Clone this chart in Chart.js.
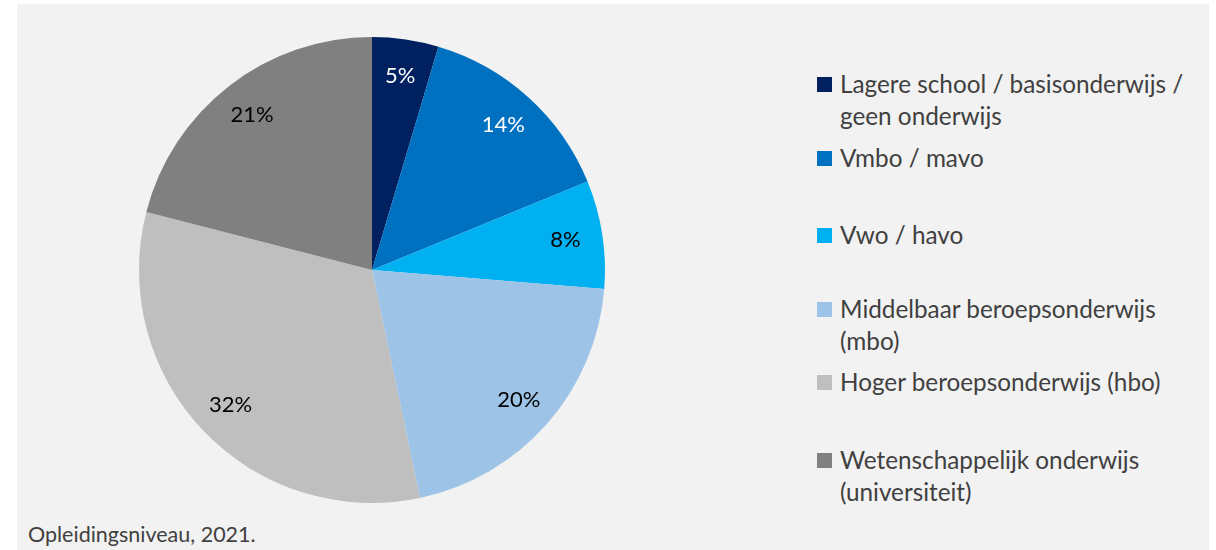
<!DOCTYPE html>
<html>
<head>
<meta charset="utf-8">
<script src="https://cdn.jsdelivr.net/npm/chart.js@4.4.1/dist/chart.umd.min.js"></script>
<style>
  body { margin: 0; background: #fff; font-family: Lato, sans-serif; }
  #wrap { position: relative; width: 1216px; height: 550px; }
  #panel { position: absolute; left: 17px; top: 4px; width: 1192px; height: 546px; background: #f2f2f2; }
  #pieBox { position: absolute; left: 137px; top: 35px; width: 470px; height: 470px; }
  #legend { position: absolute; left: 817px; top: 0; }
  .item { position: absolute; left: 0; width: 390px; display: flex; align-items: flex-start; }
  .sw { width: 15px; height: 15px; margin-top: 9px; margin-right: 8px; flex: none; }
  .txt { font-size: 24.3px; line-height: 32px; color: #404040; width: 358px; }
  #caption { position: absolute; left: 28px; top: 521px; font-size: 21.5px; color: #404040; }
</style>
</head>
<body>
<div id="wrap">
  <div id="panel"></div>
  <div id="pieBox"><canvas id="pieChart"></canvas></div>
  <div id="legend"></div>
  <div id="caption">Opleidingsniveau, 2021.</div>
</div>
<script>
const categories = [
  'Lagere school / basisonderwijs / geen onderwijs',
  'Vmbo / mavo',
  'Vwo / havo',
  'Middelbaar beroepsonderwijs (mbo)',
  'Hoger beroepsonderwijs (hbo)',
  'Wetenschappelijk onderwijs (universiteit)'
];
const shares = [4.6, 14.2, 7.5, 20.4, 32.3, 21.0];
const shareLabels = ['5%', '14%', '8%', '20%', '32%', '21%'];
const colors = ['#002060', '#0070c0', '#00b0f0', '#9dc3e6', '#bfbfbf', '#808080'];
const labelColors = ['#ffffff', '#ffffff', '#000000', '#000000', '#000000', '#000000'];

// legend, html because the labels wrap
const legendTops = [68, 142, 219, 293, 366, 444];
const legendDiv = document.getElementById('legend');
categories.forEach((c, i) => {
  legendDiv.innerHTML += `<div class="item" style="top:${legendTops[i]}px">
    <div class="sw" style="background:${colors[i]}"></div><div class="txt">${c}</div></div>`;
});

const sliceLabels = {
  id: 'sliceLabels',
  afterDatasetsDraw(chart) {
    const ctx = chart.ctx;
    const meta = chart.getDatasetMeta(0);
    ctx.save();
    ctx.font = '22px Lato';
    ctx.textAlign = 'center';
    ctx.textBaseline = 'middle';
    meta.data.forEach((arc, i) => {
      const p = arc.getProps(['x', 'y', 'startAngle', 'endAngle', 'outerRadius'], true);
      const mid = (p.startAngle + p.endAngle) / 2;
      const r = p.outerRadius * 0.84;
      ctx.fillStyle = labelColors[i];
      ctx.fillText(shareLabels[i], p.x + Math.cos(mid) * r, p.y + Math.sin(mid) * r);
    });
    ctx.restore();
  }
};

new Chart(document.getElementById('pieChart'), {
  type: 'pie',
  data: {
    labels: categories,
    datasets: [{
      data: shares,
      backgroundColor: colors,
      borderWidth: 0
    }]
  },
  options: {
    responsive: true,
    maintainAspectRatio: false,
    animation: false,
    layout: { padding: 2 },
    plugins: {
      legend: { display: false },
      tooltip: { enabled: false }
    }
  },
  plugins: [sliceLabels]
});
</script>
</body>
</html>
